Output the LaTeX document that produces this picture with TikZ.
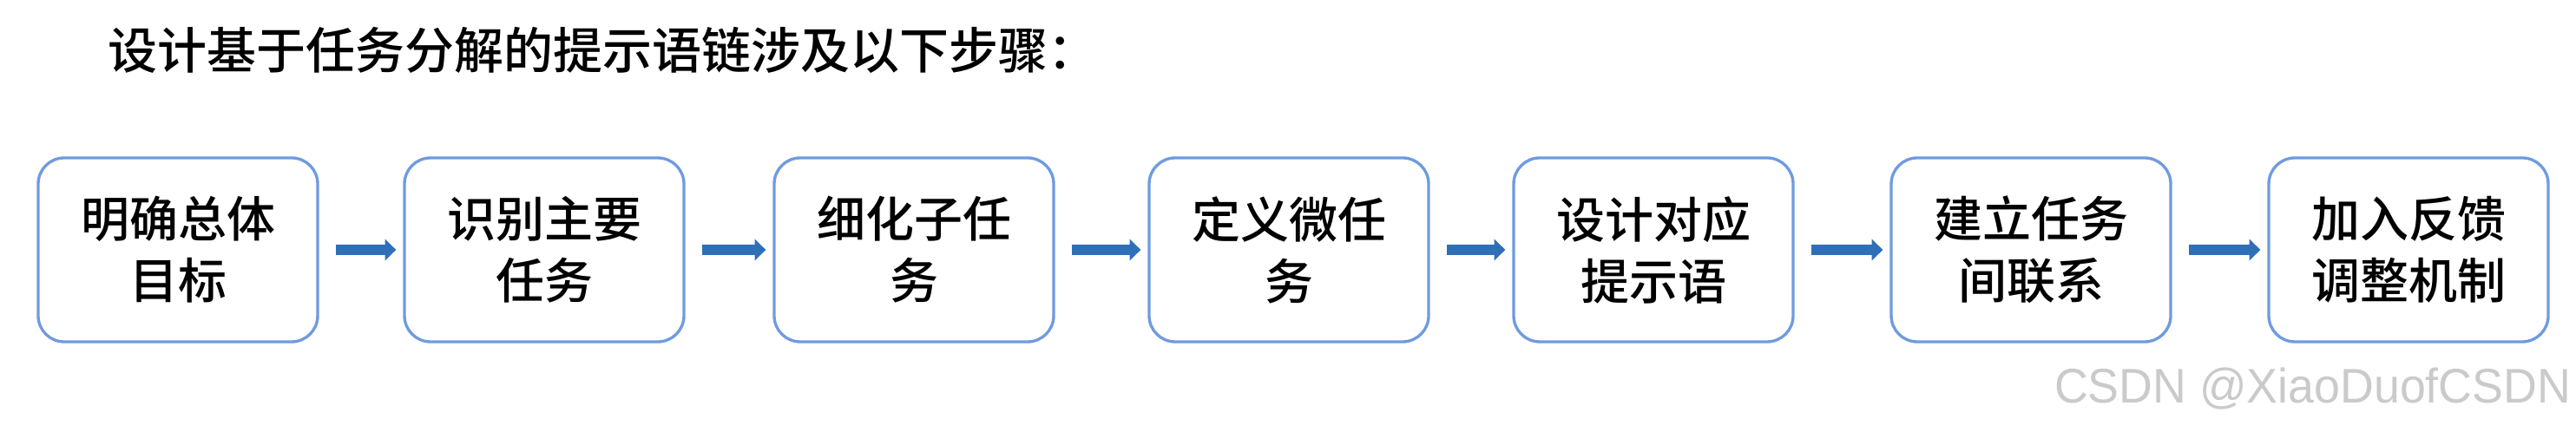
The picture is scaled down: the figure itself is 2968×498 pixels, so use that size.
\documentclass[tikz,border=0pt]{standalone}
\usepackage{fontspec}
\usepackage{tikz}
\usepackage{xcolor}
\usetikzlibrary{arrows.meta,positioning}
\newfontfamily\cjk{Noto Sans CJK SC}[UprightFont={* Medium}]
\newfontfamily\wmfont{Liberation Sans}[FakeStretch=0.96]
\definecolor{boxblue}{HTML}{6F9BE0}
\definecolor{arrowblue}{HTML}{2E6FB7}
\definecolor{wmgray}{HTML}{CACACA}
\tikzset{
  stepbox/.style={draw=boxblue,fill=white,line width=1pt,rounded corners=9pt,
                  minimum width=96.6pt,minimum height=63.6pt,inner sep=0pt,
                  align=center,font=\cjk\fontsize{16.8}{21.3}\selectfont},
  flowarr/.style={-{Triangle[length=3.8pt,width=7.2pt]},line width=3.6pt,
                  draw=arrowblue,shorten <=5.7pt,shorten >=2.4pt},
  headline/.style={anchor=west,inner sep=0pt,
                   font=\cjk\fontsize{17.1}{20}\selectfont},
  wmark/.style={anchor=base east,inner sep=0pt,text=wmgray,
                font=\wmfont\fontsize{16.8}{18}\selectfont}
}

\begin{document}
\begin{tikzpicture}[x=0.3pt,y=-0.3pt]
    \path[use as bounding box] (0,0) rectangle (2968,498);
    \node[headline] (title) at (124,57.5)
      {设计基于任务分解的提示语链涉及以下步骤：};
    \node[stepbox] (goal) at (205,288) {明确总体\\目标};
    \node[stepbox] (main) at (627,288) {识别主要\\任务};
    \node[stepbox] (sub) at (1053,288) {细化子任\\务};
    \node[stepbox] (micro) at (1485,288) {定义微任\\务};
    \node[stepbox] (prompt) at (1905,288) {设计对应\\提示语};
    \node[stepbox] (link) at (2340,288) {建立任务\\间联系};
    \node[stepbox] (feedback) at (2775,288) {加入反馈\\调整机制};
    \draw[flowarr] (goal) -- (main);
    \draw[flowarr] (main) -- (sub);
    \draw[flowarr] (sub) -- (micro);
    \draw[flowarr] (micro) -- (prompt);
    \draw[flowarr] (prompt) -- (link);
    \draw[flowarr] (link) -- (feedback);
    \node[wmark] (csdn) at (2963,465) {CSDN @XiaoDuofCSDN};
  \end{tikzpicture}
\end{document}
